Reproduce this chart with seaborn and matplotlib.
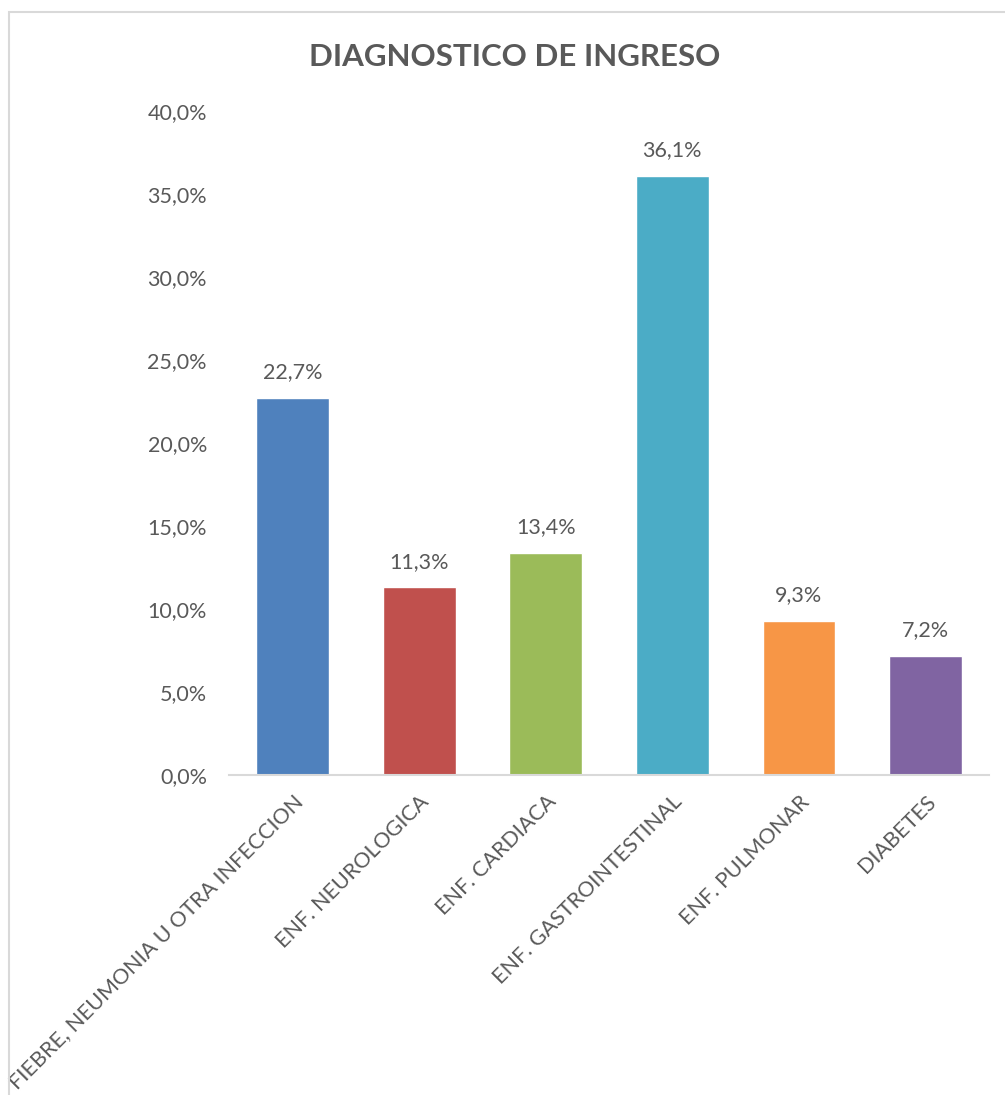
import numpy as np
import pandas as pd
import seaborn as sns
import matplotlib.pyplot as plt
from matplotlib.ticker import FuncFormatter
from matplotlib.patches import Rectangle

#####################################################
## Data
categorias = ['FIEBRE, NEUMONIA U OTRA INFECCION', 'ENF. NEUROLOGICA', 'ENF. CARDIACA',
              'ENF. GASTROINTESTINAL', 'ENF. PULMONAR', 'DIABETES']
porcentajes = [22.7, 11.3, 13.4, 36.1, 9.3, 7.2]
colores = ['#4F81BD', '#C0504D', '#9BBB59', '#4BACC6', '#F79646', '#8064A2']
#####################################################

sns.set_style('white')
plt.rcParams['font.family'] = ['Lato', 'DejaVu Sans']
gris = '#595959'

df = pd.DataFrame({'cat': categorias, 'pct': porcentajes})

fig = plt.figure(figsize=(10.05, 10.95), dpi=100)
ax = fig.add_axes([0.228, 0.2922, 0.756, 0.6064])

sns.barplot(data=df, x='cat', y='pct', hue='cat', palette=colores, legend=False,
            width=0.576, saturation=1, ax=ax)

ax.set_ylim(0, 40)
ax.set_xlim(-0.5, 5.5)
ax.set_yticks(np.arange(0, 41, 5))
ax.yaxis.set_major_formatter(FuncFormatter(lambda v, p: f'{v:.1f}%'.replace('.', ',')))
ax.set_xlabel('')
ax.set_ylabel('')

for s in ['top', 'right', 'left']:
    ax.spines[s].set_visible(False)
ax.spines['bottom'].set_color('#D9D9D9')
ax.spines['bottom'].set_linewidth(1.5)
ax.tick_params(axis='both', length=0, colors=gris, labelsize=15.5)
ax.tick_params(axis='y', pad=16)

ax.set_xticks(range(len(categorias)))
ax.set_xticklabels(categorias, rotation=45, ha='right', va='top', rotation_mode='anchor')
ax.tick_params(axis='x', pad=12)

for i, v in enumerate(porcentajes):
    ax.text(i, v + 0.95, f'{v:.1f}%'.replace('.', ','), ha='center', va='bottom',
            fontsize=15.5, color=gris)

fig.text(0.512, 0.948, 'DIAGNOSTICO DE INGRESO', ha='center', va='center',
         fontsize=22.5, fontweight='bold', color=gris)

# chart border
fig.patches.append(Rectangle((9 / 1005, -0.05), 1.1, 1 - 12 / 1095 + 0.05,
                             transform=fig.transFigure, fill=False,
                             edgecolor='#D9D9D9', linewidth=1.5))

fig.savefig('out.png', dpi=100)
